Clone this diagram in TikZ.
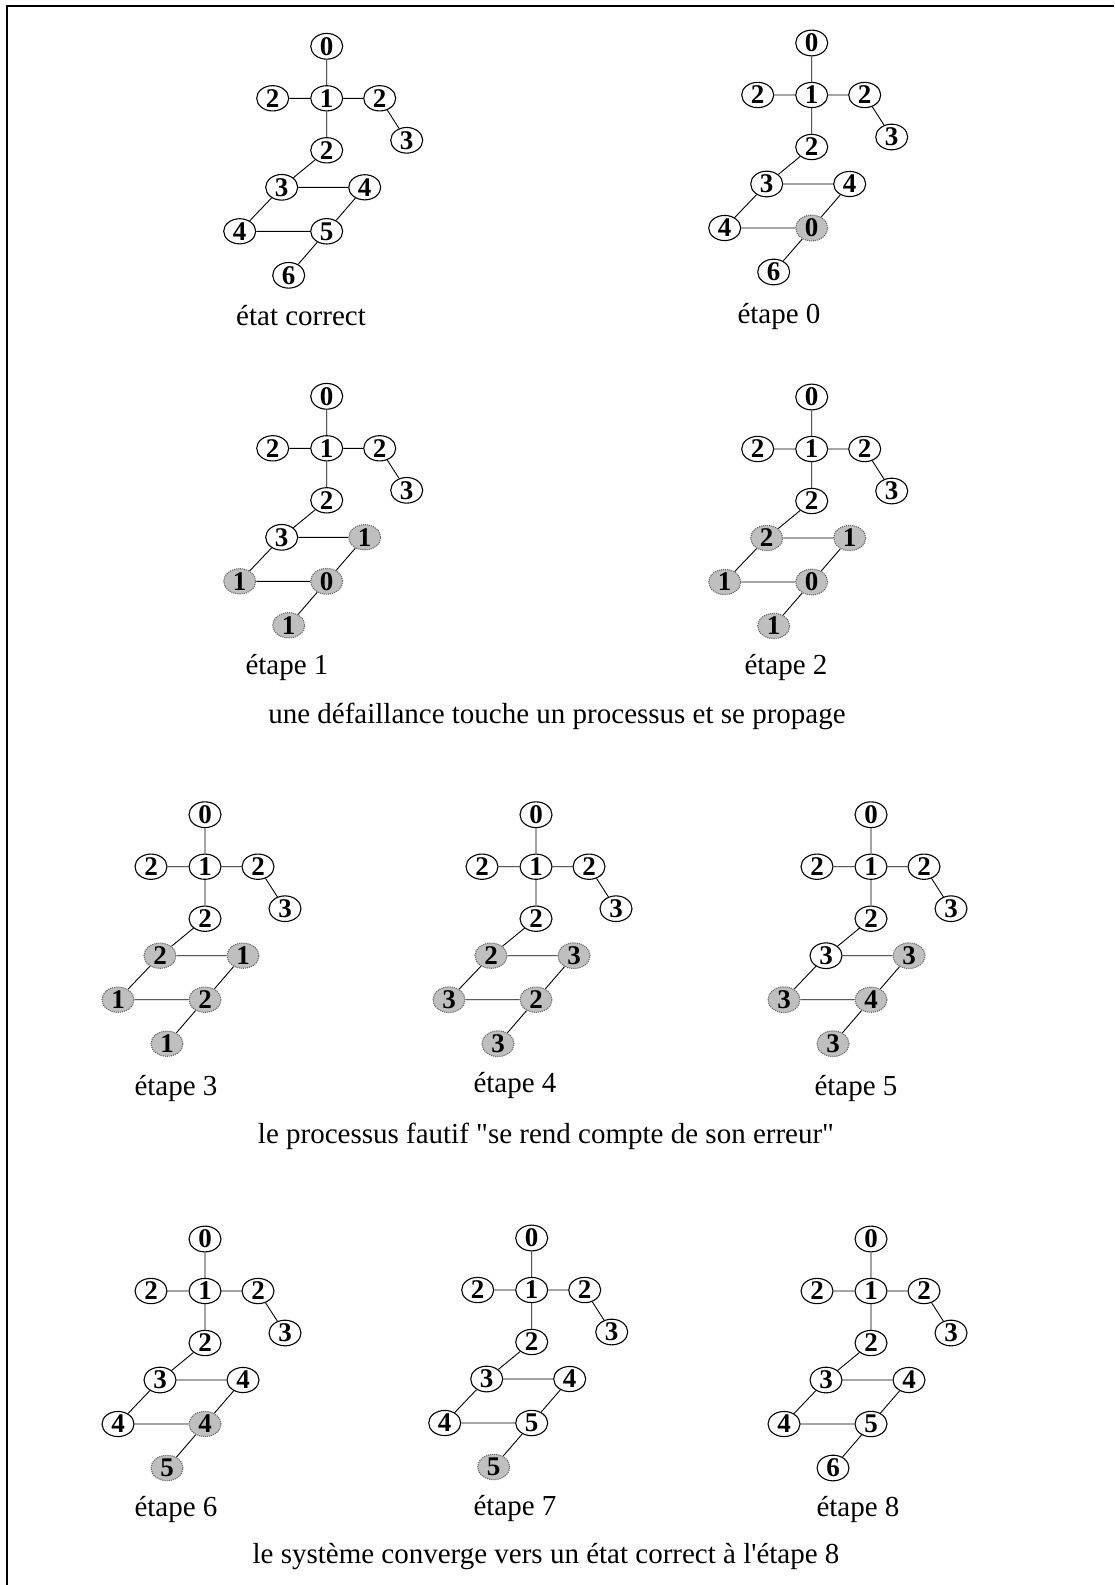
\documentclass[tikz,border=0pt]{standalone}
\usepackage{fontspec}
\setmainfont{Liberation Serif}[Ligatures=TeXOff]
\usetikzlibrary{shapes.geometric}
\tikzset{
  nd/.style={ellipse, draw=black, line width=1.1pt, fill=white, minimum width=32pt,
    minimum height=24pt, inner sep=0pt, font=\fontsize{27}{27}\selectfont\bfseries},
  gn/.style={fill=black!25, draw=black!60, densely dotted},
  ed/.style={line width=0.9pt},
  lbl/.style={font=\fontsize{29}{31}\selectfont, inner sep=0pt},
  frameline/.style={line width=2.2pt}
}
\newcommand\netw[7]{%
\begin{scope}[shift={(#2)}]
\node[nd] (#1-1) at (0,0) {1};
\node[nd] (#1-0) at (0,-52) {0};
\node[nd] (#1-L) at (-54,0) {2};
\node[nd] (#1-R) at (53,0) {2};
\node[nd] (#1-R3) at (80,42) {3};
\node[nd] (#1-M) at (0,52) {2};
\node[nd] (#1-3) at (-45,89) #3;
\node[nd] (#1-4R) at (38,89) #4;
\node[nd] (#1-4L) at (-87,133) #5;
\node[nd] (#1-5) at (0,133) #6;
\node[nd] (#1-6) at (-38,177) #7;
\draw[ed] (#1-0) -- (#1-1) (#1-1) -- (#1-L) (#1-1) -- (#1-R) (#1-R) -- (#1-R3)
  (#1-1) -- (#1-M) (#1-M) -- (#1-3) (#1-3) -- (#1-4R) (#1-3) -- (#1-4L)
  (#1-4R) -- (#1-5) (#1-4L) -- (#1-5) (#1-5) -- (#1-6);
\end{scope}}
\begin{document}
\begin{tikzpicture}[x=1pt,y=-1pt]
\useasboundingbox (0,0) rectangle (1114,1585);
\coordinate (fa) at (7,1585);
\coordinate (fb) at (7,6);
\coordinate (fc) at (1114,6);
\draw[frameline] (fa) -- (fb) -- (fc);

\netw{a}{326.7,98.3}{{3}}{{4}}{{4}}{{5}}{{6}}
\netw{b}{811.7,95}{{3}}{{4}}{{4}}{[gn]{0}}{{6}}
\netw{c}{326.7,448.3}{{3}}{[gn]{1}}{[gn]{1}}{[gn]{0}}{[gn]{1}}
\netw{d}{811.7,449}{[gn]{2}}{[gn]{1}}{[gn]{1}}{[gn]{0}}{[gn]{1}}
\netw{e}{205,866.7}{[gn]{2}}{[gn]{1}}{[gn]{1}}{[gn]{2}}{[gn]{1}}
\netw{f}{536,866.7}{[gn]{2}}{[gn]{3}}{[gn]{3}}{[gn]{2}}{[gn]{3}}
\netw{g}{871,866.7}{{3}}{[gn]{3}}{[gn]{3}}{[gn]{4}}{[gn]{3}}
\netw{h}{205,1291}{{3}}{{4}}{{4}}{[gn]{4}}{[gn]{5}}
\netw{i}{531.7,1290}{{3}}{{4}}{{4}}{{5}}{[gn]{5}}
\netw{j}{871,1291}{{3}}{{4}}{{4}}{{5}}{{6}}

\node[lbl] (la) at (301,316) {état correct};
\node[lbl] (lb) at (779,316) {étape 0};
\node[lbl] (lc) at (287,667) {étape 1};
\node[lbl] (ld) at (786,667) {étape 2};
\node[lbl] (c1) at (557,716) {une défaillance touche un processus et se propage};
\node[lbl] (le) at (176,1088) {étape 3};
\node[lbl] (lf) at (515,1085) {étape 4};
\node[lbl] (lg) at (856,1088) {étape 5};
\node[lbl] (c2) at (546,1136) {le processus fautif "se rend compte de son erreur"};
\node[lbl] (lh) at (176,1509) {étape 6};
\node[lbl] (li) at (515,1508) {étape 7};
\node[lbl] (lj) at (858,1509) {étape 8};
\node[lbl] (c3) at (546,1557) {le système converge vers un état correct à l'étape 8};
\end{tikzpicture}
\end{document}
